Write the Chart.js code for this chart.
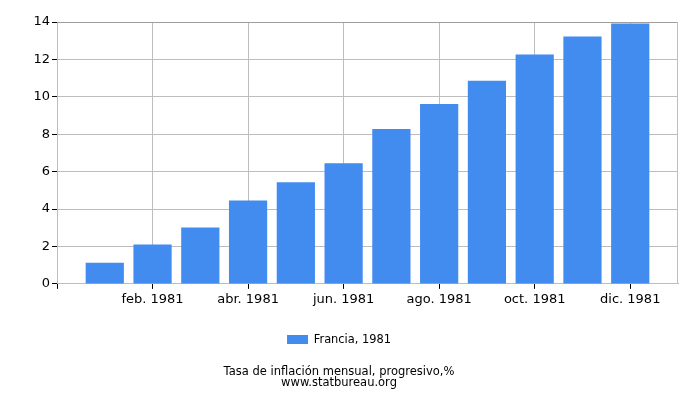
<!DOCTYPE html>
<html>
<head>
<meta charset="utf-8">
<script src="https://cdn.jsdelivr.net/npm/chart.js@4"></script>
<style>
  html, body { margin:0; padding:0; background:#fff; }
  #wrap { width:700px; height:400px; }
</style>
</head>
<body>
<div id="wrap"><canvas id="c" width="700" height="400"></canvas></div>
<script>
// months of 1981, position 1..12 on the x axis
const monthLabels = ['ene. 1981','feb. 1981','mar. 1981','abr. 1981','may. 1981','jun. 1981',
                     'jul. 1981','ago. 1981','sep. 1981','oct. 1981','nov. 1981','dic. 1981'];
const francia1981 = [1.13, 2.1, 3.02, 4.46, 5.43, 6.45, 8.28, 9.62, 10.86, 12.26, 13.23, 13.92];
const xTicks = [0, 2, 4, 6, 8, 10, 12];
const yTicks = [0, 2, 4, 6, 8, 10, 12, 14];

const FONT = 'DejaVu Sans';
const gridGray = '#bdbdbd';

// plot border top/right like the reference
const frame = {
  id: 'frame',
  afterDraw(chart) {
    const {ctx, chartArea:a} = chart;
    ctx.save();
    ctx.lineWidth = 1;
    ctx.strokeStyle = '#9e9e9e';
    ctx.beginPath(); ctx.moveTo(a.left, a.top + 0.5); ctx.lineTo(a.right, a.top + 0.5); ctx.stroke();
    ctx.strokeStyle = gridGray;
    ctx.beginPath(); ctx.moveTo(a.right - 0.5, a.top); ctx.lineTo(a.right - 0.5, a.bottom); ctx.stroke();
    ctx.restore();
  }
};

new Chart(document.getElementById('c'), {
  type: 'bar',
  data: {
    datasets: [{
      label: 'Francia, 1981',
      data: francia1981.map((v, i) => ({ x: i + 1, y: v })),
      backgroundColor: '#428bef',
      borderWidth: 0,
      categoryPercentage: 0.8,
      barPercentage: 1.0
    }]
  },
  options: {
    responsive: false,
    animation: false,
    layout: { padding: { top: 22, right: 22, left: 0, bottom: 12 } },
    plugins: {
      legend: {
        position: 'bottom',
        labels: { font: { family: FONT, size: 11.4 }, color: '#000', boxWidth: 21, boxHeight: 9, padding: 14 }
      },
      title: {
        display: true,
        position: 'bottom',
        text: ['Tasa de inflación mensual, progresivo,%', 'www.statbureau.org'],
        font: { family: FONT, size: 11.5, weight: 'normal', lineHeight: 0.9 },
        color: '#000',
        padding: { top: 12, bottom: 0 }
      },
      tooltip: { enabled: false }
    },
    scales: {
      x: {
        type: 'linear',
        min: 0, max: 13,
        offset: false,
        afterBuildTicks: s => { s.ticks = xTicks.map(v => ({ value: v })); },
        afterFit: s => { s.height = 36; },
        ticks: {
          font: { family: FONT, size: 13 }, color: '#000', maxRotation: 0, padding: 3,
          callback: v => v > 0 ? monthLabels[v - 1] : ''
        },
        grid: { color: gridGray, tickColor: '#000', tickLength: 5, offset: false },
        border: { color: gridGray }
      },
      y: {
        min: 0, max: 14,
        afterBuildTicks: s => { s.ticks = yTicks.map(v => ({ value: v })); },
        afterFit: s => { s.width = 57; },
        ticks: { font: { family: FONT, size: 13 }, color: '#000', padding: 2 },
        grid: { color: gridGray, tickColor: '#000', tickLength: 5 },
        border: { color: gridGray }
      }
    }
  },
  plugins: [frame]
});
</script>
</body>
</html>
